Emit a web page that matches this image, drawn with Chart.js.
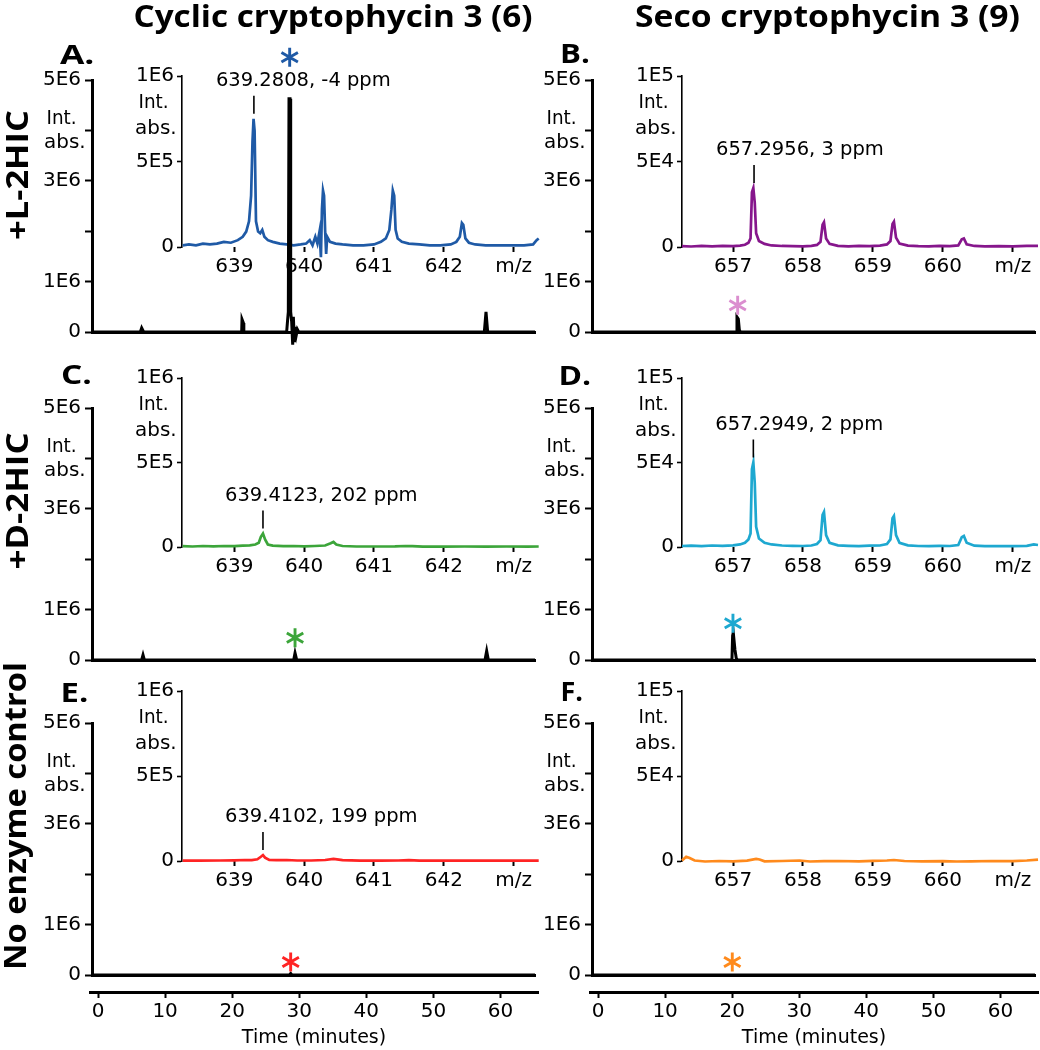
<!DOCTYPE html>
<html><head><meta charset="utf-8">
<script src="https://cdn.jsdelivr.net/npm/chart.js@4/dist/chart.umd.min.js"></script>
<style>
html,body{margin:0;padding:0;background:#fff;}
#wrap{position:relative;width:1040px;height:1050px;overflow:hidden;background:#fff;}
#wrap canvas{position:absolute;}
.t{position:absolute;white-space:nowrap;color:#000;transform-origin:center center;}
</style></head><body><div id="wrap"></div>
<script>
// ---------------- DATA ----------------
const columnTitles = ['Cyclic cryptophycin 3 (6)', 'Seco cryptophycin 3 (9)'];
const rowLabels = ['+L-2HIC', '+D-2HIC', 'No enzyme control'];
const panelLetters = ['A.', 'B.', 'C.', 'D.', 'E.', 'F.'];

// chromatograms: [time (min), intensity]
const chromA = [[-1,0],[6.2,0],[6.4,8e4],[6.7,0],[21.3,0],[21.35,2.5e5],[21.55,1.8e5],[21.62,0],[28.0,0],[28.15,2.5e5],[28.25,4.0e5],[28.35,4.63e6],[28.5,4.63e6],[28.6,4.0e5],[28.75,2.0e5],[28.9,-2.5e5],[29.0,3.0e5],[29.15,-2.0e5],[29.3,1.0e5],[29.45,-5e4],[29.6,5e4],[29.8,0],[57.45,0],[57.7,4.0e5],[57.95,0],[65,0]];
const chromB = [[-1,0],[20.55,0],[20.6,3.0e5],[20.8,2.6e5],[20.95,4e4],[21.1,0],[65,0]];
const chromC = [[-1,0],[6.4,0],[6.6,1.0e5],[6.8,0],[29.05,0],[29.25,1.4e5],[29.5,0],[57.55,0],[57.8,1.8e5],[58.05,0],[65,0]];
const chromD = [[-1,0],[19.85,0],[19.95,4.8e5],[20.05,5.4e5],[20.3,2.0e5],[20.5,3e4],[20.7,0],[65,0]];
const chromE = [[-1,0],[28.4,0],[28.6,3e4],[28.8,0],[65,0]];
const chromF = [[-1,0],[65,0]];

// inset mass spectra: [m/z, intensity]
const specA = [[638.26,1.0e4],[638.35,1.5e4],[638.45,1.0e4],[638.55,2.0e4],[638.65,1.5e4],[638.75,2.0e4],[638.85,3.0e4],[638.95,2.5e4],[639.05,4.0e4],[639.12,6.0e4],[639.17,9.0e4],[639.21,1.5e5],[639.24,3.0e5],[639.26,6.2e5],[639.275,7.5e5],[639.29,6.8e5],[639.31,1.5e5],[639.34,9.0e4],[639.37,8.0e4],[639.40,1.0e5],[639.43,6.0e4],[639.48,4.0e4],[639.55,3.0e4],[639.65,2.0e4],[639.75,1.5e4],[639.85,1.0e4],[639.95,1.5e4],[640.03,2.0e4],[640.08,4.0e4],[640.12,1.0e4],[640.16,6.0e4],[640.19,2.0e4],[640.22,9.0e4],[640.24,-6.0e4],[640.255,2.2e5],[640.27,3.3e5],[640.285,3.0e5],[640.30,1.0e5],[640.315,-4.0e4],[640.33,6.0e4],[640.37,3.0e4],[640.45,2.0e4],[640.55,1.5e4],[640.7,1.0e4],[640.85,1.0e4],[641.0,1.5e4],[641.1,3.0e4],[641.17,5.0e4],[641.22,1.0e5],[641.25,2.2e5],[641.27,3.3e5],[641.29,3.0e5],[641.31,1.0e5],[641.34,5.0e4],[641.4,3.0e4],[641.5,2.0e4],[641.65,1.5e4],[641.8,1.0e4],[641.95,1.0e4],[642.1,1.5e4],[642.18,3.0e4],[642.23,6.0e4],[642.26,1.4e5],[642.28,1.3e5],[642.31,5.0e4],[642.36,2.5e4],[642.45,1.5e4],[642.6,1.0e4],[642.8,1.0e4],[643.0,1.0e4],[643.15,1.0e4],[643.28,1.5e4],[643.33,4.0e4],[643.36,5.0e4]];
const specB = [[656.27,500],[656.4,300],[656.55,600],[656.7,400],[656.85,700],[657.0,500],[657.1,800],[657.17,1300],[657.22,2500],[657.25,5000],[657.27,3.2e4],[657.29,3.45e4],[657.31,2.6e4],[657.33,8000],[657.37,3500],[657.45,1800],[657.55,900],[657.7,600],[657.85,500],[658.0,400],[658.12,700],[658.2,1200],[658.25,3000],[658.28,1.3e4],[658.3,1.45e4],[658.33,5000],[658.38,1800],[658.5,700],[658.65,400],[658.8,600],[658.95,500],[659.1,800],[659.2,1500],[659.25,3500],[659.28,1.35e4],[659.3,1.48e4],[659.33,5500],[659.38,2000],[659.5,800],[659.65,500],[659.8,400],[659.95,600],[660.1,500],[660.22,900],[660.27,4500],[660.3,5000],[660.34,1500],[660.45,600],[660.6,400],[660.8,500],[661.0,400],[661.2,600],[661.36,700]];
const specC = [[638.26,5000],[638.4,3000],[638.55,6000],[638.7,4000],[638.85,6000],[639.0,5000],[639.12,8000],[639.22,1.0e4],[639.3,1.5e4],[639.35,2.5e4],[639.38,6.0e4],[639.41,8.0e4],[639.44,4.5e4],[639.48,1.5e4],[639.55,8000],[639.7,5000],[639.85,6000],[640.0,4000],[640.15,6000],[640.3,9000],[640.38,2.2e4],[640.42,3.0e4],[640.46,1.5e4],[640.55,6000],[640.75,3000],[641.0,3000],[641.3,4000],[641.45,6000],[641.55,5000],[641.7,2000],[642.0,2000],[642.3,3000],[642.6,2000],[642.9,3000],[643.2,2000],[643.36,3000]];
const specD = [[656.27,600],[656.4,800],[656.55,500],[656.7,900],[656.85,700],[657.0,1000],[657.1,1500],[657.17,2500],[657.22,4500],[657.25,8000],[657.27,4.6e4],[657.29,5.0e4],[657.31,3.8e4],[657.33,1.2e4],[657.37,5000],[657.45,2500],[657.55,1500],[657.7,900],[657.85,700],[658.0,600],[658.12,900],[658.2,1800],[658.25,4000],[658.28,1.9e4],[658.3,2.07e4],[658.33,7000],[658.38,2500],[658.5,1000],[658.65,700],[658.8,500],[658.95,800],[659.1,900],[659.2,1800],[659.25,4500],[659.28,1.7e4],[659.3,1.83e4],[659.33,7000],[659.38,2500],[659.5,1000],[659.65,600],[659.8,500],[659.95,700],[660.1,600],[660.22,1200],[660.27,5800],[660.3,6500],[660.34,2500],[660.45,800],[660.6,500],[660.8,600],[661.0,500],[661.2,700],[661.3,1500],[661.36,1200]];
const specE = [[638.26,2000],[638.5,2000],[638.8,3000],[639.0,4000],[639.15,6000],[639.25,5000],[639.33,1.0e4],[639.38,2.5e4],[639.41,3.5e4],[639.44,2.0e4],[639.5,6000],[639.6,5000],[639.75,6000],[639.9,3000],[640.1,3000],[640.3,6000],[640.42,1.2e4],[640.55,5000],[640.8,2000],[641.1,2000],[641.35,3000],[641.5,5000],[641.65,2000],[642.0,2000],[642.5,2000],[643.0,2000],[643.36,2000]];
const specF = [[656.27,300],[656.33,2500],[656.38,1800],[656.45,300],[656.6,-300],[656.8,0],[657.0,-200],[657.2,200],[657.33,1200],[657.38,900],[657.45,-200],[657.7,0],[657.95,300],[658.1,-300],[658.3,-100],[658.5,0],[658.8,-200],[659.0,100],[659.2,300],[659.3,600],[659.45,0],[659.7,-200],[660.0,-100],[660.2,-300],[660.4,-200],[660.7,0],[661.0,-100],[661.2,300],[661.36,800]];

// annotated inset peaks
const peakLabels = ['639.2808, -4 ppm', '657.2956, 3 ppm', '639.4123, 202 ppm', '657.2949, 2 ppm', '639.4102, 199 ppm', null];
const peakMz = [639.28, 657.30, 639.41, 657.29, 639.41, null];
const peakTop = [7.5e5, 3.45e4, 8.0e4, 5.0e4, 3.5e4, null];

// asterisks marking the chromatographic peak (time, level)
const starTime = [28.45, 20.7, 29.25, 20.0, 28.6, 19.9];
const starLevel = [5.45e6, 5.3e5, 4.4e5, 7.3e5, 2.6e5, 2.6e5];

// ticks
const mainYTicks = [0, 1e6, 2e6, 3e6, 4e6, 5e6];
const mainYLabels = ['0', '1E6', '', '3E6', '', '5E6'];
const insetYTicksL = [0, 5e5, 1e6];
const insetYLabelsL = ['0', '5E5', '1E6'];
const insetYTicksR = [0, 5e4, 1e5];
const insetYLabelsR = ['0', '5E4', '1E5'];
const mzTicksL = [639, 640, 641, 642, 643];
const mzLabelsL = ['639', '640', '641', '642', 'm/z'];
const mzTicksR = [657, 658, 659, 660, 661];
const mzLabelsR = ['657', '658', '659', '660', 'm/z'];
const timeTicks = [0, 10, 20, 30, 40, 50, 60];
const timeLabels = ['0', '10', '20', '30', '40', '50', '60'];
const intLabel = ['Int.', 'abs.'];
const timeTitle = 'Time (minutes)';

// ---------------- STYLE / LAYOUT ----------------
const traceColors = ['#1f5aa6', '#86168c', '#3ca53a', '#1ea8d0', '#ff2424', '#ff8a1c'];
const starColors  = ['#1f5aa6', '#db8ecf', '#3ca53a', '#1ea8d0', '#ff2424', '#ff8a1c'];
const COLS = [0, 500];
const ROWS = [
  {y5: 80,  y0: 332, iTop: 76,  iZero: 247},
  {y5: 408, y0: 660, iTop: 378, iZero: 547},
  {y5: 723, y0: 975, iTop: 691, iZero: 861}
];
const chroms = [chromA, chromB, chromC, chromD, chromE, chromF];
const specs = [specA, specB, specC, specD, specE, specF];

Chart.defaults.font.family = "'DejaVu Sans', sans-serif";
Chart.defaults.font.size = 20;
Chart.defaults.color = '#000';

const wrap = document.getElementById('wrap');
function mkCanvas(l, t, w, h, z) {
  const c = document.createElement('canvas');
  c.width = w; c.height = h;
  c.style.left = l + 'px'; c.style.top = t + 'px';
  c.style.width = w + 'px'; c.style.height = h + 'px';
  c.style.zIndex = z;
  wrap.appendChild(c);
  return c;
}
function fixTicks(values, labels) {
  return {
    afterBuildTicks(s) { s.ticks = values.map(v => ({value: v})); },
    cb(v, i) { return labels[i]; }
  };
}

const starPlugin = {
  id: 'stars',
  afterDatasetsDraw(chart, args, o) {
    if (!o || o.time == null) return;
    const ctx = chart.ctx;
    const px = chart.scales.x.getPixelForValue(o.time);
    const py = chart.scales.y.getPixelForValue(o.level);
    const r = 9.5;
    ctx.save();
    ctx.strokeStyle = o.color; ctx.lineWidth = 2.9;
    ctx.beginPath();
    for (const a of [90, 30, 150]) {
      const rad = a * Math.PI / 180;
      ctx.moveTo(px - r * Math.cos(rad), py - r * Math.sin(rad));
      ctx.lineTo(px + r * Math.cos(rad), py + r * Math.sin(rad));
    }
    ctx.stroke();
    ctx.restore();
  }
};
const notePlugin = {
  id: 'peakNote',
  afterDatasetsDraw(chart, args, o) {
    if (!o || !o.text) return;
    const ctx = chart.ctx;
    const px = chart.scales.x.getPixelForValue(o.mz);
    const py = chart.scales.y.getPixelForValue(o.val);
    ctx.save();
    ctx.strokeStyle = '#000'; ctx.lineWidth = 1.6;
    ctx.beginPath();
    ctx.moveTo(px, py - 5); ctx.lineTo(px, py - 23);
    ctx.stroke();
    ctx.fillStyle = '#000';
    ctx.font = "19.5px 'DejaVu Sans'";
    ctx.textAlign = 'left'; ctx.textBaseline = 'middle';
    ctx.fillText(o.text, px - 38, py - 38);
    ctx.restore();
  }
};

function mainChart(i) {
  const col = i % 2, row = Math.floor(i / 2);
  const ox = COLS[col], R = ROWS[row];
  const padTop = 40, padBot = 22;
  const c = mkCanvas(ox, R.y5 - padTop, 540, R.y0 - R.y5 + padTop + padBot, 3);
  const yT = fixTicks(mainYTicks, mainYLabels);
  new Chart(c, {
    type: 'line',
    data: {datasets: [{data: chroms[i].map(d => ({x: d[0], y: d[1]})), borderColor: '#000', borderWidth: 3,
      pointRadius: 0, tension: 0, clip: false, fill: false}]},
    options: {
      responsive: false, animation: false, devicePixelRatio: 1, events: [],
      layout: {padding: {left: 0, top: padTop, right: 5, bottom: padBot}},
      plugins: {legend: {display: false}, tooltip: {enabled: false},
        stars: {time: starTime[i], level: starLevel[i], color: starColors[i]}},
      scales: {
        x: {type: 'linear', min: -1, max: 65, ticks: {display: false},
          grid: {display: true, drawOnChartArea: false, drawTicks: false},
          border: {display: true, width: 3, color: '#000'},
          afterFit(s) { s.height = 0; }},
        y: {type: 'linear', min: 0, max: 5e6, afterBuildTicks: yT.afterBuildTicks,
          ticks: {autoSkip: false, callback: yT.cb, padding: 4},
          grid: {display: true, drawOnChartArea: false, drawTicks: true, tickLength: 7, tickWidth: 2, tickColor: '#000'},
          border: {display: true, width: 3, color: '#000'},
          afterFit(s) { s.width = 92; }}
      }
    },
    plugins: [starPlugin]
  });
}

function insetChart(i) {
  const col = i % 2, row = Math.floor(i / 2);
  const ox = COLS[col], R = ROWS[row];
  const padTop = 15, xH = 40;
  const c = mkCanvas(ox + 100, R.iTop - padTop, 440, R.iZero - R.iTop + padTop + xH, 2);
  const yT = col ? fixTicks(insetYTicksR, insetYLabelsR) : fixTicks(insetYTicksL, insetYLabelsL);
  const xT = col ? fixTicks(mzTicksR, mzLabelsR) : fixTicks(mzTicksL, mzLabelsL);
  new Chart(c, {
    type: 'line',
    data: {datasets: [{data: specs[i].map(d => ({x: d[0], y: d[1]})), borderColor: traceColors[i], borderWidth: 2.7,
      pointRadius: 0, tension: 0, clip: false, fill: false}]},
    options: {
      responsive: false, animation: false, devicePixelRatio: 1, events: [],
      layout: {padding: {left: 0, top: padTop, right: 2, bottom: 0}},
      plugins: {legend: {display: false}, tooltip: {enabled: false},
        peakNote: {mz: peakMz[i], val: peakTop[i], text: peakLabels[i]}},
      scales: {
        x: {type: 'linear', min: col ? 656.27 : 638.25, max: col ? 661.36 : 643.35,
          afterBuildTicks: xT.afterBuildTicks,
          ticks: {autoSkip: false, maxRotation: 0, callback: xT.cb, padding: 3},
          grid: {display: true, drawOnChartArea: false, drawTicks: true, tickLength: 5, tickWidth: 2, tickColor: '#000'},
          border: {display: false},
          afterFit(s) { s.height = xH; }},
        y: {type: 'linear', min: 0, max: col ? 1e5 : 1e6, afterBuildTicks: yT.afterBuildTicks,
          ticks: {autoSkip: false, callback: yT.cb, padding: 3},
          grid: {display: true, drawOnChartArea: false, drawTicks: true, tickLength: 5, tickWidth: 1.6, tickColor: '#000'},
          border: {display: true, width: 1.6, color: '#000'},
          afterFit(s) { s.width = 82; }}
      }
    },
    plugins: [notePlugin]
  });
}

function timeAxis(col) {
  const ox = COLS[col];
  const c = mkCanvas(ox, 980, 540, 70, 3);
  const xT = fixTicks(timeTicks, timeLabels);
  new Chart(c, {
    type: 'line',
    data: {datasets: []},
    options: {
      responsive: false, animation: false, devicePixelRatio: 1, events: [],
      layout: {padding: {left: 90, top: 0, right: 2, bottom: 0}},
      plugins: {legend: {display: false}, tooltip: {enabled: false}},
      scales: {
        x: {type: 'linear', min: -1.2, max: 65.6, afterBuildTicks: xT.afterBuildTicks,
          ticks: {autoSkip: false, maxRotation: 0, callback: xT.cb, padding: 2},
          grid: {display: true, drawOnChartArea: false, drawTicks: true, tickLength: 6, tickWidth: 2, tickColor: '#000'},
          border: {display: true, width: 3, color: '#000'},
          title: {display: true, text: timeTitle, font: {size: 19}, padding: {top: 0, bottom: 1}},
          afterFit(s) { s.height = 58; }},
        y: {display: false, min: 0, max: 1}
      }
    }
  });
}

for (let i = 0; i < 6; i++) { insetChart(i); mainChart(i); }
timeAxis(0); timeAxis(1);

// ---------------- TEXT ----------------
function addText(txt, cx, cy, font, w, rot) {
  const d = document.createElement('div');
  d.className = 't';
  d.style.font = font;
  d.style.lineHeight = '1';
  d.style.zIndex = 5;
  d.textContent = txt;
  wrap.appendChild(d);
  const bw = d.offsetWidth, bh = d.offsetHeight;
  d.style.left = (cx - bw / 2) + 'px';
  d.style.top = (cy - bh / 2) + 'px';
  const sx = w ? w / bw : 1;
  d.style.transform = (rot ? 'rotate(-90deg) ' : '') + 'scaleX(' + sx + ')';
}
const boldTitle = "700 30px 'Open Sans'";
addText(columnTitles[0], 333, 16, boldTitle, 399);
addText(columnTitles[1], 827, 16, boldTitle, 385);
addText(rowLabels[0], 17, 175, boldTitle, 130, true);
addText(rowLabels[1], 17, 501, boldTitle, 137, true);
addText(rowLabels[2], 15, 816, boldTitle, 308, true);
const letterPos = [[77, 53, 34], [575, 52, 30], [76, 373, 31], [575, 374, 33], [74, 691, 28], [572, 690, 23]];
for (let i = 0; i < 6; i++) addText(panelLetters[i], letterPos[i][0], letterPos[i][1], "700 27px 'Open Sans'", letterPos[i][2]);
const reg = "19px 'DejaVu Sans'";
for (let i = 0; i < 6; i++) {
  const col = i % 2, row = Math.floor(i / 2);
  const ox = COLS[col], R = ROWS[row];
  addText(intLabel[0], ox + 61, R.y5 + 37, reg, 30);
  addText(intLabel[1], ox + 65, R.y5 + 61, reg, 42);
  addText(intLabel[0], ox + 153, R.iTop + 25, reg, 30);
  addText(intLabel[1], ox + 156, R.iTop + 51, reg, 42);
}
</script></body></html>
